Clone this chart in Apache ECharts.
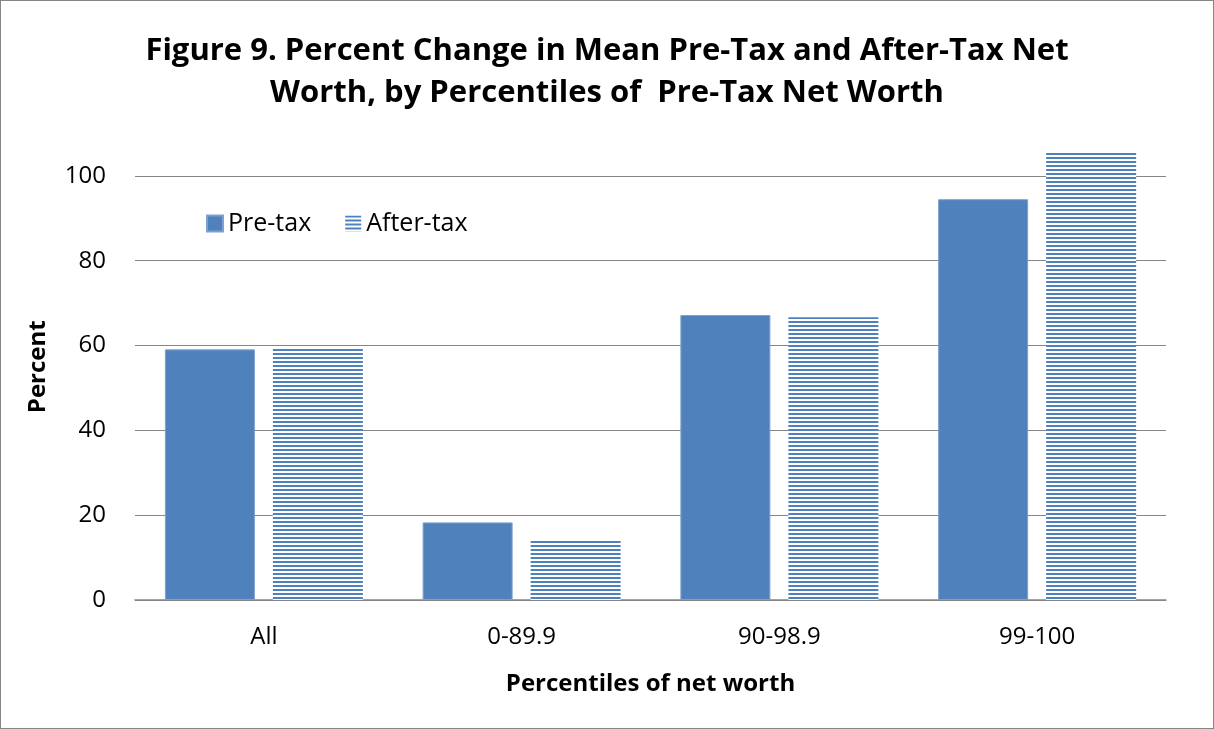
<!DOCTYPE html>
<html>
<head>
<meta charset="utf-8">
<script src="https://cdn.jsdelivr.net/npm/echarts@6/dist/echarts.min.js"></script>
<style>
html,body{margin:0;padding:0;background:#fff;}
#chart{width:1212px;height:727px;border:1px solid #868686;}
</style>
</head>
<body>
<div id="chart"></div>
<script>
const categories = ['All', '0-89.9', '90-98.9', '99-100'];
const preTax = [59.1, 18.3, 67.2, 94.5];
const afterTax = [59.5, 14.3, 66.7, 105.6];
const seriesNames = ['Pre-tax', 'After-tax'];
const titleText = 'Figure 9. Percent Change in Mean Pre-Tax and After-Tax Net\nWorth, by Percentiles of  Pre-Tax Net Worth';

const FONT = '"Open Sans", sans-serif';
const BLUE = '#4f81bd';

function stripeCanvas() {
  const c = document.createElement('canvas');
  c.width = 4; c.height = 4;
  const g = c.getContext('2d');
  g.fillStyle = '#ffffff'; g.fillRect(0, 0, 4, 4);
  g.fillStyle = BLUE; g.fillRect(0, 0, 4, 2);
  return c;
}

const chart = echarts.init(document.getElementById('chart'), null, {renderer: 'canvas'});
chart.setOption({
  animation: false,
  textStyle: {fontFamily: FONT},
  title: {
    text: titleText,
    left: 'center',
    top: 24,
    textStyle: {fontFamily: FONT, fontWeight: 'bold', fontSize: 31, lineHeight: 42, color: '#000'}
  },
  legend: {
    data: seriesNames,
    icon: 'rect',
    left: 200,
    top: 205,
    itemWidth: 16,
    itemHeight: 16,
    itemGap: 34,
    textStyle: {fontFamily: FONT, fontSize: 25, color: '#000'}
  },
  grid: {left: 134, right: 47, top: 132.5, bottom: 128, containLabel: false},
  xAxis: {
    type: 'category',
    data: categories,
    name: 'Percentiles of net worth',
    nameLocation: 'middle',
    nameGap: 72,
    nameTextStyle: {fontFamily: FONT, fontWeight: 'bold', fontSize: 24, color: '#000'},
    axisLine: {lineStyle: {color: '#868686', width: 1.5}},
    axisTick: {show: false},
    axisLabel: {fontFamily: FONT, fontSize: 24, color: '#000', margin: 25}
  },
  yAxis: {
    type: 'value',
    min: 0,
    max: 110,
    interval: 20,
    name: 'Percent',
    nameLocation: 'middle',
    nameGap: 85,
    nameRotate: 90,
    nameTextStyle: {fontFamily: FONT, fontWeight: 'bold', fontSize: 24, color: '#000'},
    axisLine: {show: false},
    axisTick: {show: false},
    axisLabel: {fontFamily: FONT, fontSize: 24, color: '#000', margin: 29, showMaxLabel: false,
      formatter: v => (v % 20 === 0 ? String(v) : '')},
    splitLine: {show: true, showMaxLine: false, lineStyle: {color: '#868686', width: 1.2}}
  },
  series: [
    {
      name: seriesNames[0],
      type: 'bar',
      data: preTax,
      barWidth: 90,
      barGap: '20%',
      itemStyle: {color: BLUE, borderColor: '#7fa0cf', borderWidth: 1}
    },
    {
      name: seriesNames[1],
      type: 'bar',
      data: afterTax,
      barWidth: 90,
      itemStyle: {color: {image: stripeCanvas(), repeat: 'repeat'}}
    }
  ]
});
</script>
</body>
</html>
